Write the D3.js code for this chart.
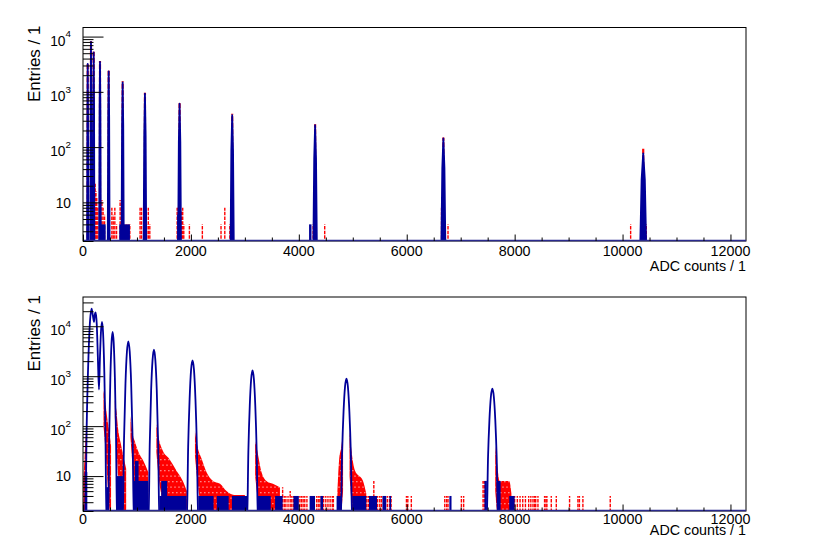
<!DOCTYPE html>
<html><head><meta charset="utf-8">
<script src="https://cdn.jsdelivr.net/npm/d3@7/dist/d3.min.js"></script>
<style>body{margin:0;background:#fff}svg{display:block}</style>
</head><body>
<script>
// ---------------- data (ADC, counts) ----------------
const xMajorTicks = [0, 2000, 4000, 6000, 8000, 10000, 12000];
const yDecadeTicks = [10, 100, 1000, 10000];
const xTitle = "ADC counts / 1";
const yTitle = "Entries / 1";

// top pad: blue model curve points
const topBlue = [
  [0,1],[75,1],[81,427],[87,3200],[93,427],[99,1],
  [136,1],[142,845],[148,8000],[154,845],[160,1],
  [184,1],[191,610],[198,5200],[205,610],[212,1],
  [299,1],[307,455],[315,3500],[323,455],[331,1],
  [458,1],[467,337],[476,2350],[485,337],[494,1],
  [713,1],[724,240],[735,1480],[746,240],[757,1],
  [1122,1],[1135,168],[1148,930],[1161,168],[1174,1],
  [1762,1],[1776,123],[1790,610],[1804,123],[1818,1],
  [2733,1],[2749,86],[2765,378],[2781,86],[2797,1],
  [4267,1],[4285,63],[4302,249],[4319,63],[4337,1],
  [6639,1],[6659,42],[6679,144],[6699,42],[6719,1],
  [10323,1],[10353,26],[10383,77],[10413,26],[10443,1],[12288,1]
];
const topPeakADC = [87,148,198,315,476,735,1148,1790,2765,4302,6679,10383];
const topRedPeakCounts = [3300,8200,5300,3600,2400,1550,960,630,400,260,150,95];
const topBlueNoise = [[300,420,4],[672,870,4],[1745,1800,6],[2730,2795,6],[4190,4235,4],[4282,4322,8],[6640,6715,4],[10345,10425,4]];
const topRedSpikes = [[225,22],[240,16],[255,12],[275,8],[350,11],[372,8],[400,6],[535,8],[560,6],[590,8],[622,4],
  [688,11],[712,8],[780,4],[810,4],[840,4],[868,4],[1058,8],[1085,8],[1180,4],[1210,8],[1238,4],
  [1745,8],[1765,8],[1828,7],[1848,8],[1868,4],[1972,4],[2212,4],[2558,4],[2628,8],[2722,4],[2750,8],
  [4265,4],[4480,4],[6645,8],[6765,4],[10150,4],[10440,4]];

// bottom pad: blue model curve points
const botBlue = [
  [0,1],[40,1],[68,95],[103,2800],[130,12700],[160,22600],[182,16500],[204,12200],[220,17500],[235,19000],
  [255,11000],[275,2500],[296,540],[315,2500],[332,7400],[352,12200],[372,7400],[395,1220],[415,86],[436,1],
  [466,1],[486,66],[507,930],[529,4700],[549,7700],[569,4700],[591,930],[612,66],[632,1],
  [735,1],[760,52],[787,700],[814,3080],[840,5000],[866,3080],[893,700],[920,52],[945,1],
  [1213,1],[1237,44],[1263,530],[1289,2100],[1315,3400],[1341,2100],[1367,530],[1393,44],[1417,1],
  [1923,1],[1949,38],[1976,350],[2003,1340],[2030,2070],[2057,1340],[2084,350],[2111,38],[2137,1],
  [3040,1],[3065,32],[3091,260],[3116,860],[3142,1300],[3168,860],[3193,260],[3219,32],[3244,1],
  [4775,1],[4802,29],[4829,195],[4856,610],[4883,890],[4910,610],[4937,195],[4964,29],[4991,1],
  [7480,1],[7507,24],[7533,135],[7560,392],[7587,561],[7614,392],[7641,135],[7667,24],[7694,1],[12288,1]
];
// bottom pad: red data tails [ADC, low, high]
const botRedTails = [
  [[5,1,8],[30,1,25],[55,3,80],[75,10,160]],
  [[380,100,520],[420,30,260],[460,6,120],[500,2,60],[520,2,40]],
  [[590,150,330],[620,40,200],[650,10,90],[700,3,45],[760,1,22],[800,1,14]],
  [[880,60,160],[920,15,70],[960,5,50],[1030,1,30],[1120,1,20],[1210,1,12]],
  [[1360,30,110],[1400,10,60],[1480,3,32],[1600,1,22],[1730,1,13],[1850,1,8],[1925,1,5]],
  [[2075,25,80],[2120,8,40],[2200,2,22],[2290,1,12],[2410,1,8],[2540,1,7],[2660,1,5],[2800,1,4.2],[3000,1,4.2]],
  [[3190,10,50],[3230,4,32],[3300,1,13],[3400,1,8],[3520,1,7],[3650,1,6]],
  [[4715,1,5],[4745,1,20],[4790,2,40],[4820,5,80]],
  [[4940,10,80],[4976,3,32],[5040,1,13],[5190,1,8],[5250,1,4.5]],
  [[7640,5,40],[7672,2,19],[7722,1,8],[7900,1,8],[7940,1,4.5]]
];
const botRedSpikes = [[3700,6],[3730,4],[3760,4],[3800,4],[3840,5],[3870,4],[3900,4],[3950,4],[3980,4],[4020,4],
  [4050,4],[4080,4],[4110,4],[4150,4],[4330,4],[4360,4],[4390,4],[4420,4],[4460,4],[4500,4],[4540,4],[4580,4],
  [4620,4],[4640,4],[5260,4],[5290,4],[5320,4],[5360,4],[5390,8],[5420,4],[5460,4],[5500,4],[5530,4],[5570,4],
  [5600,4],[5640,4],[5680,4],[5710,4],[5995,4],[6020,4],[6085,4],[6705,4],[6740,4],[6765,4],[7013,4],[7055,4],
  [7415,8],[7440,8],[7970,4],[8000,4],[8050,4],[8100,4],[8150,4],[8200,4],[8260,4],[8300,4],[8340,4],[8370,4],
  [8390,4],[8432,4],[8555,4],[8580,4],[8598,4],[8679,4],[8772,4],[9018,4],[9173,4],[9200,4],[9265,4],[9772,4]];
const botBlueNoise = [[30,80,12],[430,480,6],[630,740,10],[945,1210,8],[960,1030,20],[1417,1920,4],[1450,1560,8],
  [2137,2420,4],[2480,2700,4],[2760,3040,4],[3244,3480,4],[3560,3700,4],[3900,4000,4],[4200,4300,4],[4400,4450,4],
  [4700,4780,4],[4991,5250,4],[5300,5450,4],[5550,5620,4],[5680,5710,4],[6790,6830,4],[7440,7485,8],[7690,7740,8],[7900,8000,4]];

// ---------------- layout ----------------
const W = 830, H = 538, X_MAX = 12288, Y_MIN = 2;
const FL = 83, FR = 746;
const BLUE = "#000099", RED = "#ff0000";
const FONT = "'Liberation Sans', Arial, Helvetica, sans-serif";

const pads = [
  {y0: 27.5, y1: 241, yMax: 14600, xLabelY: 255.5, xTitleY: 271, blue: topBlue, blueCurve: d3.curveLinear, fillBlue: true,
   blueNoise: topBlueNoise, redSpikes: topRedSpikes, redPeaks: topPeakADC.map((a,i)=>[a, topRedPeakCounts[i]]), tails: []},
  {y0: 297, y1: 511, yMax: 38500, xLabelY: 523.5, xTitleY: 534.5, blue: botBlue, blueCurve: d3.curveMonotoneX, fillBlue: false,
   blueNoise: botBlueNoise, redSpikes: botRedSpikes, redPeaks: [], tails: botRedTails}
];

const svg = d3.select("body").append("svg").attr("width", W).attr("height", H)
  .style("font-family", FONT);
const defs = svg.append("defs");
const pat = defs.append("pattern").attr("id","redTex").attr("width",4).attr("height",11)
  .attr("patternUnits","userSpaceOnUse");
pat.append("rect").attr("width",4).attr("height",11).attr("fill",RED);
pat.append("rect").attr("x",0.5).attr("y",8).attr("width",0.8).attr("height",1.3).attr("fill","#fff");
pat.append("rect").attr("x",2.6).attr("y",2.5).attr("width",0.8).attr("height",1.3).attr("fill","#fff");

const x = d3.scaleLinear().domain([0, X_MAX]).range([FL, FR]);

pads.forEach((p, i) => {
  const y = d3.scaleLog().domain([Y_MIN, p.yMax]).range([p.y1, p.y0]);
  defs.append("clipPath").attr("id","clip"+i).append("rect")
    .attr("x",FL).attr("y",p.y0).attr("width",FR-FL).attr("height",p.y1-p.y0);
  const g = svg.append("g");
  const plot = g.append("g").attr("clip-path", `url(#clip${i})`);

  // red tails (data)
  const area = d3.area().x(d=>x(d[0])).y0(d=>y(d[1])).y1(d=>y(d[2])).curve(d3.curveMonotoneX);
  plot.selectAll("path.tail").data(p.tails).join("path").attr("class","tail")
    .attr("d", area).attr("fill","url(#redTex)");
  // red peaks (data)
  plot.selectAll("line.rpk").data(p.redPeaks).join("line").attr("class","rpk")
    .attr("x1",d=>x(d[0])).attr("x2",d=>x(d[0])).attr("y1",y(1)).attr("y2",d=>y(d[1]))
    .attr("stroke",RED).attr("stroke-width",2.2).attr("stroke-dasharray","5 1.5");
  // red spikes
  plot.selectAll("line.rsp").data(p.redSpikes).join("line").attr("class","rsp")
    .attr("x1",d=>x(d[0])).attr("x2",d=>x(d[0])).attr("y1",y(1)).attr("y2",d=>y(d[1]))
    .attr("stroke",RED).attr("stroke-width",1.4).attr("stroke-dasharray","3.5 1.2");
  // blue noise blocks
  plot.selectAll("rect.bn").data(p.blueNoise).join("rect").attr("class","bn")
    .attr("x",d=>x(d[0])).attr("width",d=>Math.max(1.2, x(d[1])-x(d[0])))
    .attr("y",d=>y(d[2])).attr("height",d=>p.y1 - y(d[2]))
    .attr("fill",BLUE);
  // blue curve
  const line = d3.line().x(d=>x(d[0])).y(d=>y(d[1])).curve(p.blueCurve);
  plot.append("path").attr("d", line(p.blue)).attr("fill", p.fillBlue ? BLUE : "none")
    .attr("stroke",BLUE).attr("stroke-width",1.8).attr("stroke-linejoin","round");

  // frame
  g.append("rect").attr("x",FL).attr("y",p.y0).attr("width",FR-FL).attr("height",p.y1-p.y0)
    .attr("fill","none").attr("stroke","#000").attr("stroke-width",1);
  g.append("line").attr("x1",FL).attr("x2",FR).attr("y1",p.y1-0.5).attr("y2",p.y1-0.5)
    .attr("stroke","#2a2a8e").attr("stroke-width",1.6);

  // x axis ticks
  const xMinor = d3.range(0, X_MAX, 500).filter(v => v % 2000 !== 0);
  g.append("g").attr("transform",`translate(0,${p.y1})`)
    .call(d3.axisBottom(x).tickValues(xMajorTicks).tickSizeInner(-6.5).tickSizeOuter(0).tickFormat(""))
    .call(s=>{s.select(".domain").remove(); s.selectAll("line").attr("stroke","#000");});
  g.append("g").attr("transform",`translate(0,${p.y1})`)
    .call(d3.axisBottom(x).tickValues(xMinor).tickSizeInner(-3.5).tickSizeOuter(0).tickFormat(""))
    .call(s=>{s.select(".domain").remove(); s.selectAll("line").attr("stroke","#000");});
  g.selectAll("text.xl").data(xMajorTicks).join("text").attr("class","xl")
    .attr("x",d=>x(d)).attr("y",p.xLabelY).attr("text-anchor","middle")
    .attr("font-size",14.3).text(d=>d);

  // y axis ticks
  const yMinor = [];
  [1,10,100,1000,10000].forEach(dec => d3.range(2,10).forEach(m => {
    const v = dec*m; if (v >= Y_MIN && v <= p.yMax && ![10,100,1000,10000].includes(v)) yMinor.push(v);
  }));
  g.append("g").attr("transform",`translate(${FL},0)`)
    .call(d3.axisLeft(y).tickValues(yDecadeTicks).tickSizeInner(-20.5).tickSizeOuter(0).tickFormat(""))
    .call(s=>{s.select(".domain").remove(); s.selectAll("line").attr("stroke","#000");});
  g.append("g").attr("transform",`translate(${FL},0)`)
    .call(d3.axisLeft(y).tickValues(yMinor).tickSizeInner(-10.5).tickSizeOuter(0).tickFormat(""))
    .call(s=>{s.select(".domain").remove(); s.selectAll("line").attr("stroke","#000");});
  yDecadeTicks.forEach(v => {
    const e = Math.round(Math.log10(v));
    const t = g.append("text").attr("x",71).attr("text-anchor","end").attr("font-size",13.8);
    if (e === 1) {
      t.attr("y", y(v)+5.3).text("10");
    } else {
      t.attr("y", y(v)+9);
      t.append("tspan").text("10");
      t.append("tspan").attr("dy",-8.3).attr("font-size",9.8).text(e);
    }
  });

  // titles
  g.append("text").attr("x",FR).attr("y",p.xTitleY).attr("text-anchor","end")
    .attr("font-size",14.3).text(xTitle);
  g.append("text").attr("transform",`translate(39.5,${p.y0-2}) rotate(-90)`)
    .attr("text-anchor","end").attr("font-size",17).text(yTitle);
});
</script>
</body></html>
